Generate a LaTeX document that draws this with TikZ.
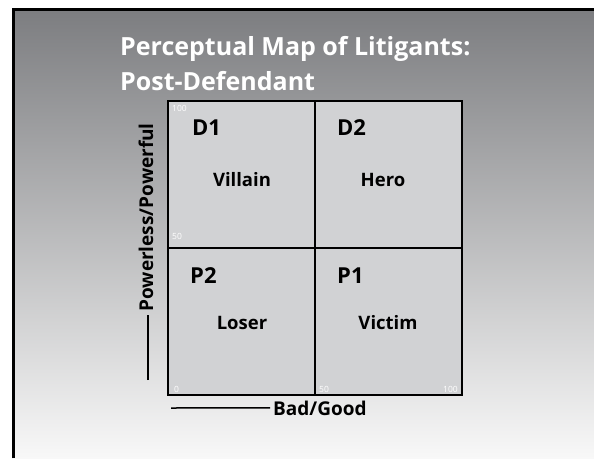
\documentclass[tikz,border=0pt]{standalone}
\usepackage{fontspec}
\setmainfont{Open Sans}
\usepackage{tikz}
\usepackage{xcolor}
\definecolor{bgtop}{HTML}{7C7D80}
\definecolor{bgmid}{HTML}{BBBCBE}
\definecolor{bgbot}{HTML}{F8F8F8}
\definecolor{cellgray}{HTML}{D1D2D4}

\begin{document}
\begin{tikzpicture}[x=1pt,y=-1pt,
    titletext/.style={font=\fontsize{25}{28}\selectfont\bfseries, text=white, anchor=base west, inner sep=0pt},
    quadname/.style={font=\fontsize{22}{24}\selectfont\bfseries, anchor=base west, inner sep=0pt},
    quadrole/.style={font=\fontsize{18.5}{21}\selectfont\bfseries, anchor=base, inner sep=0pt},
    scalenum/.style={font=\fontsize{8.5}{10}\selectfont, text=white, inner sep=0pt},
    axislabel/.style={font=\fontsize{19}{22}\selectfont\bfseries, inner sep=3pt}]
    \useasboundingbox (0,0) rectangle (594,458);

    % Background slide
    \fill[white] (0,0) rectangle (594,458);
    \shade[top color=bgtop, middle color=bgmid, bottom color=bgbot] (12,8) rectangle (594,458);
    \draw[line width=3pt] (13.5,458) -- (13.5,9.2) -- (594,9.2);

    % Title
    \node[titletext] (title1) at (120,55) {Perceptual Map of Litigants:};
    \node[titletext] (title2) at (120,90) {Post-Defendant};

    % Draw the map
    \draw[line width=2pt, fill=cellgray] (168,101) rectangle (462,395);
    \draw[line width=1.5pt] (315,101) -- (315,395);
    \draw[line width=1.5pt] (168,248) -- (462,248);

    % Quadrant labels
    \node[quadname] (d1) at (192,135) {D1};
    \node[quadrole] (villain) at (242,186) {Villain};
    \node[quadname] (d2) at (337,135) {D2};
    \node[quadrole] (hero) at (383,186) {Hero};
    \node[quadname] (p2) at (190,283) {P2};
    \node[quadrole] (loser) at (242,329) {Loser};
    \node[quadname] (p1) at (337,283) {P1};
    \node[quadrole] (victim) at (388,329) {Victim};

    % Scale numbers
    \node[scalenum, anchor=base west] (ytop) at (172,111) {100};
    \node[scalenum, anchor=base west] (ymid) at (172,239) {50};
    \node[scalenum, anchor=base west] (zero) at (174,392) {0};
    \node[scalenum, anchor=base west] (xmid) at (319,392) {50};
    \node[scalenum, anchor=base east] (xtop) at (458,392) {100};

    % Axis labels
    \node[axislabel, anchor=base west] (xlab) at (270,415) {Bad/Good};
    \coordinate (xstart) at (171,408);
    \draw[line width=1.5pt] (xstart) -- (xlab.west);

    \node[axislabel, rotate=90, anchor=east] (ylab) at (146,120) {Powerless/Powerful};
    \coordinate (ystart) at (148,380);
    \draw[line width=1.5pt] (ystart) -- (ystart |- ylab.west);

\end{tikzpicture}
\end{document}
